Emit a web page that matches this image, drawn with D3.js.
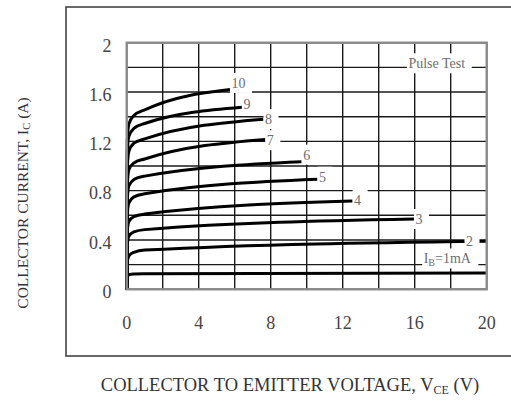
<!DOCTYPE html>
<html>
<head>
<meta charset="utf-8">
<script src="https://cdn.jsdelivr.net/npm/d3@7"></script>
<style>
  html, body { margin: 0; padding: 0; background: #fff; }
  svg { display: block; }
  text { font-family: "Liberation Serif", "Times New Roman", serif; }
</style>
</head>
<body>
<svg id="chart" width="511" height="410"></svg>
<script>
// Base current for each characteristic curve (mA)
const baseCurrents = [1, 2, 3, 4, 5, 6, 7, 8, 9, 10];
const curveLabels = ["IB=1mA", "2", "3", "4", "5", "6", "7", "8", "9", "10"];

// Collector current Ic (A) against collector-emitter voltage Vce (V), one array per base current
const ib1  = [[0, 0], [0.03, 0.1],  [0.12, 0.118], [0.4, 0.124], [1, 0.127], [20, 0.132]];
const ib2  = [[0, 0], [0.03, 0.22], [0.12, 0.27],  [0.4, 0.30],  [1, 0.318], [20, 0.39]];
const ib3  = [[0, 0], [0.03, 0.36], [0.12, 0.43],  [0.4, 0.465], [1, 0.484], [15.96, 0.57]];
const ib4  = [[0, 0], [0.03, 0.47], [0.12, 0.55],  [0.4, 0.59],  [1, 0.61],  [12.55, 0.716]];
const ib5  = [[0, 0], [0.03, 0.6],  [0.12, 0.7],   [0.4, 0.75],  [1, 0.775], [10.6, 0.892]];
const ib6  = [[0, 0], [0.03, 0.72], [0.12, 0.84],  [0.4, 0.89],  [1, 0.918], [9.72, 1.035]];
const ib7  = [[0, 0], [0.03, 0.84], [0.12, 0.97],  [0.4, 1.025], [1, 1.057], [7.7, 1.215]];
const ib8  = [[0, 0], [0.03, 0.98], [0.12, 1.12],  [0.4, 1.185], [1, 1.22],  [7.6, 1.38]];
const ib9  = [[0, 0], [0.03, 1.1],  [0.12, 1.24],  [0.4, 1.305], [1, 1.345], [6.4, 1.476]];
const ib10 = [[0, 0], [0.03, 1.2],  [0.12, 1.34],  [0.4, 1.41],  [1, 1.455], [5.74, 1.62]];
const curves = [ib1, ib2, ib3, ib4, ib5, ib6, ib7, ib8, ib9, ib10];

// Axis ticks
const xTicks = [0, 4, 8, 12, 16, 20];
const yTicks = [0, 0.4, 0.8, 1.2, 1.6, 2];
const yTickLabels = ["0", "0.4", "0.8", "1.2", "1.6", "2"];

const svg = d3.select("#chart");

const x = d3.scaleLinear().domain([0, 20]).range([126.7, 486.7]);
const y = d3.scaleLinear().domain([0, 2]).range([289.3, 42.7]);

// Outer panel border (runs off the right edge)
svg.append("rect")
  .attr("x", 66).attr("y", 7)
  .attr("width", 470).attr("height", 349)
  .attr("fill", "none").attr("stroke", "#444").attr("stroke-width", 1.6);

// Grid: every 2 V and every 0.2 A
const grid = svg.append("g").attr("stroke", "#1a1a1a").attr("stroke-width", 1.4);
grid.selectAll("line.v").data(d3.range(0, 21, 2)).join("line")
  .attr("class", "v")
  .attr("x1", d => x(d)).attr("x2", d => x(d))
  .attr("y1", y(0)).attr("y2", y(2));
grid.selectAll("line.h").data(d3.range(0, 11).map(i => i * 0.2)).join("line")
  .attr("class", "h")
  .attr("y1", d => y(d)).attr("y2", d => y(d))
  .attr("x1", x(0)).attr("x2", x(20));

// Characteristic curves
const line = d3.line()
  .x(d => x(d[0])).y(d => y(d[1]))
  .curve(d3.curveMonotoneX);

svg.append("g").selectAll("path").data(curves).join("path")
  .attr("d", line)
  .attr("fill", "none")
  .attr("stroke", "#000")
  .attr("stroke-width", 3)
  .attr("stroke-linejoin", "round");

// Curve labels with a white knock-out box behind them
const labelShift = { 3: 0, 4: -1, 5: -2.6, 6: -7, 7: 0.7, 8: 0, 9: -3.3, 10: -6.6 };
const labelPos = baseCurrents.map((ib, i) => {
  const pts = curves[i];
  const end = pts[pts.length - 1];
  if (ib === 1) return { ib, text: curveLabels[i], x: x(16.5), y: y(0.25) };
  if (ib === 2) return { ib, text: curveLabels[i], x: x(18.85), y: y(0.388) };
  return { ib, text: curveLabels[i], x: x(end[0]) + 1.5, y: y(end[1]) + labelShift[ib] };
});
labelPos.push({ ib: 0, text: "Pulse Test", x: x(15.65), y: y(1.833) });

const labels = svg.append("g");
labelPos.forEach(p => {
  const g = labels.append("g");
  const t = g.append("text")
    .attr("x", p.x).attr("y", p.y)
    .attr("dy", "0.35em")
    .attr("font-size", 14)
    .attr("fill", "#6e6e6e");
  if (p.ib === 1) {
    t.append("tspan").text("I");
    t.append("tspan").attr("font-size", 10).attr("dy", "0.3em").text("B");
    t.append("tspan").attr("dy", "-0.21em").text("=1mA");
  } else {
    t.text(p.text);
  }
  const bb = t.node().getBBox();
  g.insert("rect", "text")
    .attr("x", bb.x - 1.5).attr("y", p.y - 10)
    .attr("width", bb.width + 8).attr("height", 20)
    .attr("fill", "#fff");
});

// Plot frame
svg.append("rect")
  .attr("x", x(0)).attr("y", y(2))
  .attr("width", x(20) - x(0)).attr("height", y(0) - y(2))
  .attr("fill", "none").attr("stroke", "#8c8c8c").attr("stroke-width", 2.4);

// Tick labels
svg.append("g").selectAll("text").data(xTicks).join("text")
  .attr("x", d => x(d)).attr("y", 328.5)
  .attr("text-anchor", "middle")
  .attr("font-size", 18).attr("fill", "#444")
  .text(d => d);

svg.append("g").selectAll("text").data(yTicks).join("text")
  .attr("x", 111.5).attr("y", d => y(d) + 2.5)
  .attr("dy", "0.35em")
  .attr("text-anchor", "end")
  .attr("font-size", 18).attr("fill", "#444")
  .text((d, i) => yTickLabels[i]);

// Axis titles
const xt = svg.append("text")
  .attr("x", 290).attr("y", 391)
  .attr("text-anchor", "middle")
  .attr("font-size", 18.5).attr("fill", "#333");
xt.append("tspan").text("COLLECTOR TO EMITTER VOLTAGE, V");
xt.append("tspan").attr("font-size", 12).attr("dy", "0.25em").text("CE");
xt.append("tspan").attr("dy", "-0.16em").text(" (V)");

const yt = svg.append("text")
  .attr("transform", "translate(27.5,203) rotate(-90)")
  .attr("text-anchor", "middle")
  .attr("font-size", 15.5).attr("fill", "#333");
yt.append("tspan").text("COLLECTOR CURRENT, I");
yt.append("tspan").attr("font-size", 10.5).attr("dy", "0.25em").text("C");
yt.append("tspan").attr("dy", "-0.17em").text(" (A)");
</script>
</body>
</html>
